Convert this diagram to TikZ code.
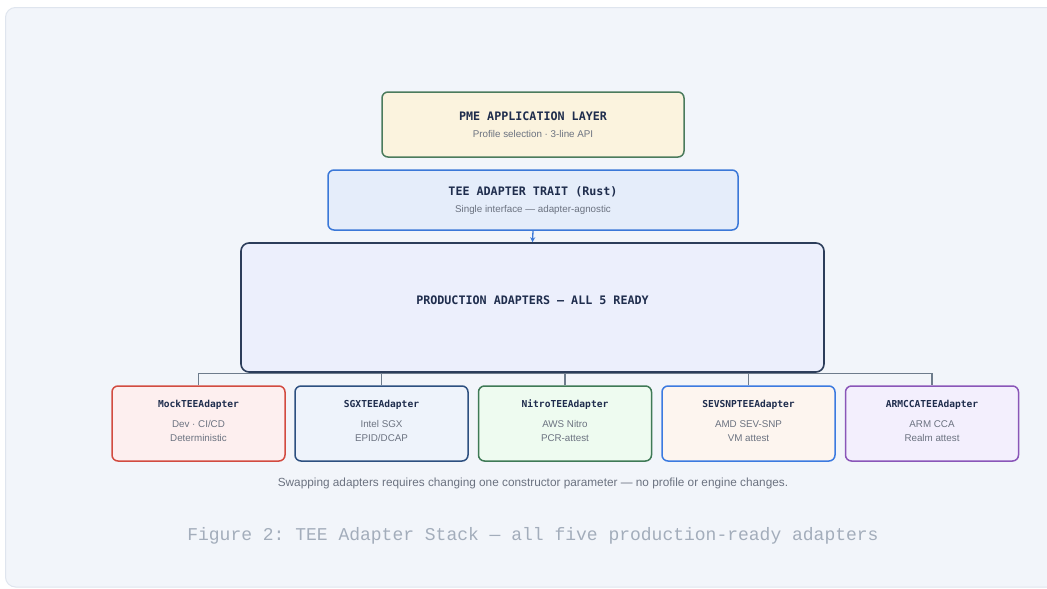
\documentclass[tikz,border=0pt]{standalone}
\usepackage{fontspec}
\setmainfont{Liberation Sans}
\newfontfamily\titlemono{DejaVu Sans Mono}
\newfontfamily\capmono{Liberation Mono}
\usetikzlibrary{arrows.meta}
\frenchspacing
\definecolor{panelfill}{HTML}{F2F5FA}
\definecolor{panelline}{HTML}{DFE5EE}
\definecolor{navy}{HTML}{1F2D4D}
\definecolor{subgray}{HTML}{6B7280}
\definecolor{capgray}{HTML}{A3ADBB}
\definecolor{busgray}{HTML}{6E7C8C}
\definecolor{pmefill}{HTML}{FBF3DE}
\definecolor{pmeline}{HTML}{4B7B5C}
\definecolor{traitfill}{HTML}{E5EDFA}
\definecolor{traitline}{HTML}{3B78D8}
\definecolor{prodfill}{HTML}{ECEFFC}
\definecolor{prodline}{HTML}{2C3D5A}
\definecolor{mockfill}{HTML}{FDEFEF}
\definecolor{mockline}{HTML}{D24B40}
\definecolor{sgxfill}{HTML}{EEF3FB}
\definecolor{sgxline}{HTML}{2D5080}
\definecolor{nitrofill}{HTML}{EEFBF0}
\definecolor{nitroline}{HTML}{3F7A56}
\definecolor{sevfill}{HTML}{FDF5EF}
\definecolor{sevline}{HTML}{3B7AE0}
\definecolor{armfill}{HTML}{F3EFFD}
\definecolor{armline}{HTML}{8A56B8}
\tikzset{
  box/.style={draw, line width=1.5pt, rounded corners=6pt, inner sep=0pt},
  ttl/.style={font=\titlemono\bfseries\fontsize{11.7}{13}\selectfont, text=navy, inner sep=0pt},
  sml/.style={font=\titlemono\bfseries\fontsize{9.6}{11}\selectfont, text=navy, inner sep=0pt},
  sub/.style={font=\fontsize{9.8}{11}\selectfont, text=subgray, inner sep=0pt},
  bus/.style={draw=busgray, line width=1.5pt},
  child/.style={box, minimum width=173pt, minimum height=75pt},
}
\begin{document}
\begin{tikzpicture}[x=1pt,y=-1pt]
\useasboundingbox (0,0) rectangle (1047,589);
\draw[fill=panelfill, draw=panelline, line width=1pt, rounded corners=10pt] (5.5,7.5) rectangle (1070,587);
% top boxes
\node[box, draw=pmeline, fill=pmefill, minimum width=302pt, minimum height=65pt] (pme) at (533,124.5) {};
\node[ttl] (pmet) at (533,116) {PME APPLICATION LAYER};
\node[sub] (pmes) at (533,134) {Profile selection · 3-line API};
\node[box, draw=traitline, fill=traitfill, minimum width=410pt, minimum height=60pt] (trait) at (533,200) {};
\node[ttl] (traitt) at (533,192) {TEE ADAPTER TRAIT (Rust)};
\node[sub] (traits) at (533,210) {Single interface — adapter-agnostic};
\node[box, draw=prodline, fill=prodfill, line width=1.6pt, rounded corners=8pt, minimum width=583pt, minimum height=129pt] (prod) at (532.5,307.5) {};
\node[ttl] (prodt) at (532.5,300) {PRODUCTION ADAPTERS — ALL 5 READY};
\draw[draw=traitline, line width=1.3pt, -{Stealth[length=5pt,width=5pt]}] (trait.south) -- (prod.north);
% children
\node[child, draw=mockline, fill=mockfill] (mock) at (198.5,423.5) {};
\node[child, draw=sgxline, fill=sgxfill] (sgx) at (381.5,423.5) {};
\node[child, draw=nitroline, fill=nitrofill] (nitro) at (565,423.5) {};
\node[child, draw=sevline, fill=sevfill] (sev) at (748.5,423.5) {};
\node[child, draw=armline, fill=armfill] (arm) at (932,423.5) {};
\coordinate (busl) at (198.5,373.5);
\coordinate (busr) at (932,373.5);
\draw[bus] (mock.north) -- (busl) -- (busr) -- (arm.north);
\draw[bus] (sgx.north) -- (sgx.north |- busl);
\draw[bus] (nitro.north) -- (nitro.north |- busl);
\draw[bus] (sev.north) -- (sev.north |- busl);
% child texts
\node[sml] (mockt) at (198.5,405) {MockTEEAdapter};
\node[sub] (mocka) at (198.5,424) {Dev · CI/CD};
\node[sub] (mockb) at (198.5,438) {Deterministic};
\node[sml] (sgxt) at (381.5,405) {SGXTEEAdapter};
\node[sub] (sgxa) at (381.5,424) {Intel SGX};
\node[sub] (sgxb) at (381.5,438) {EPID/DCAP};
\node[sml] (nitrot) at (565,405) {NitroTEEAdapter};
\node[sub] (nitroa) at (565,424) {AWS Nitro};
\node[sub] (nitrob) at (565,438) {PCR-attest};
\node[sml] (sevt) at (748.5,405) {SEVSNPTEEAdapter};
\node[sub] (seva) at (748.5,424) {AMD SEV-SNP};
\node[sub] (sevb) at (748.5,438) {VM attest};
\node[sml] (armt) at (932,405) {ARMCCATEEAdapter};
\node[sub] (arma) at (932,424) {ARM CCA};
\node[sub] (armb) at (932,438) {Realm attest};
\node[sub, font=\fontsize{11.8}{13}\selectfont] (note) at (533,483) {Swapping adapters requires changing one constructor parameter — no profile or engine changes.};
\node[inner sep=0pt, text=capgray, font=\capmono\fontsize{18}{20}\selectfont] (cap) at (533,536) {Figure 2: TEE Adapter Stack — all five production-ready adapters};
\end{tikzpicture}
\end{document}
